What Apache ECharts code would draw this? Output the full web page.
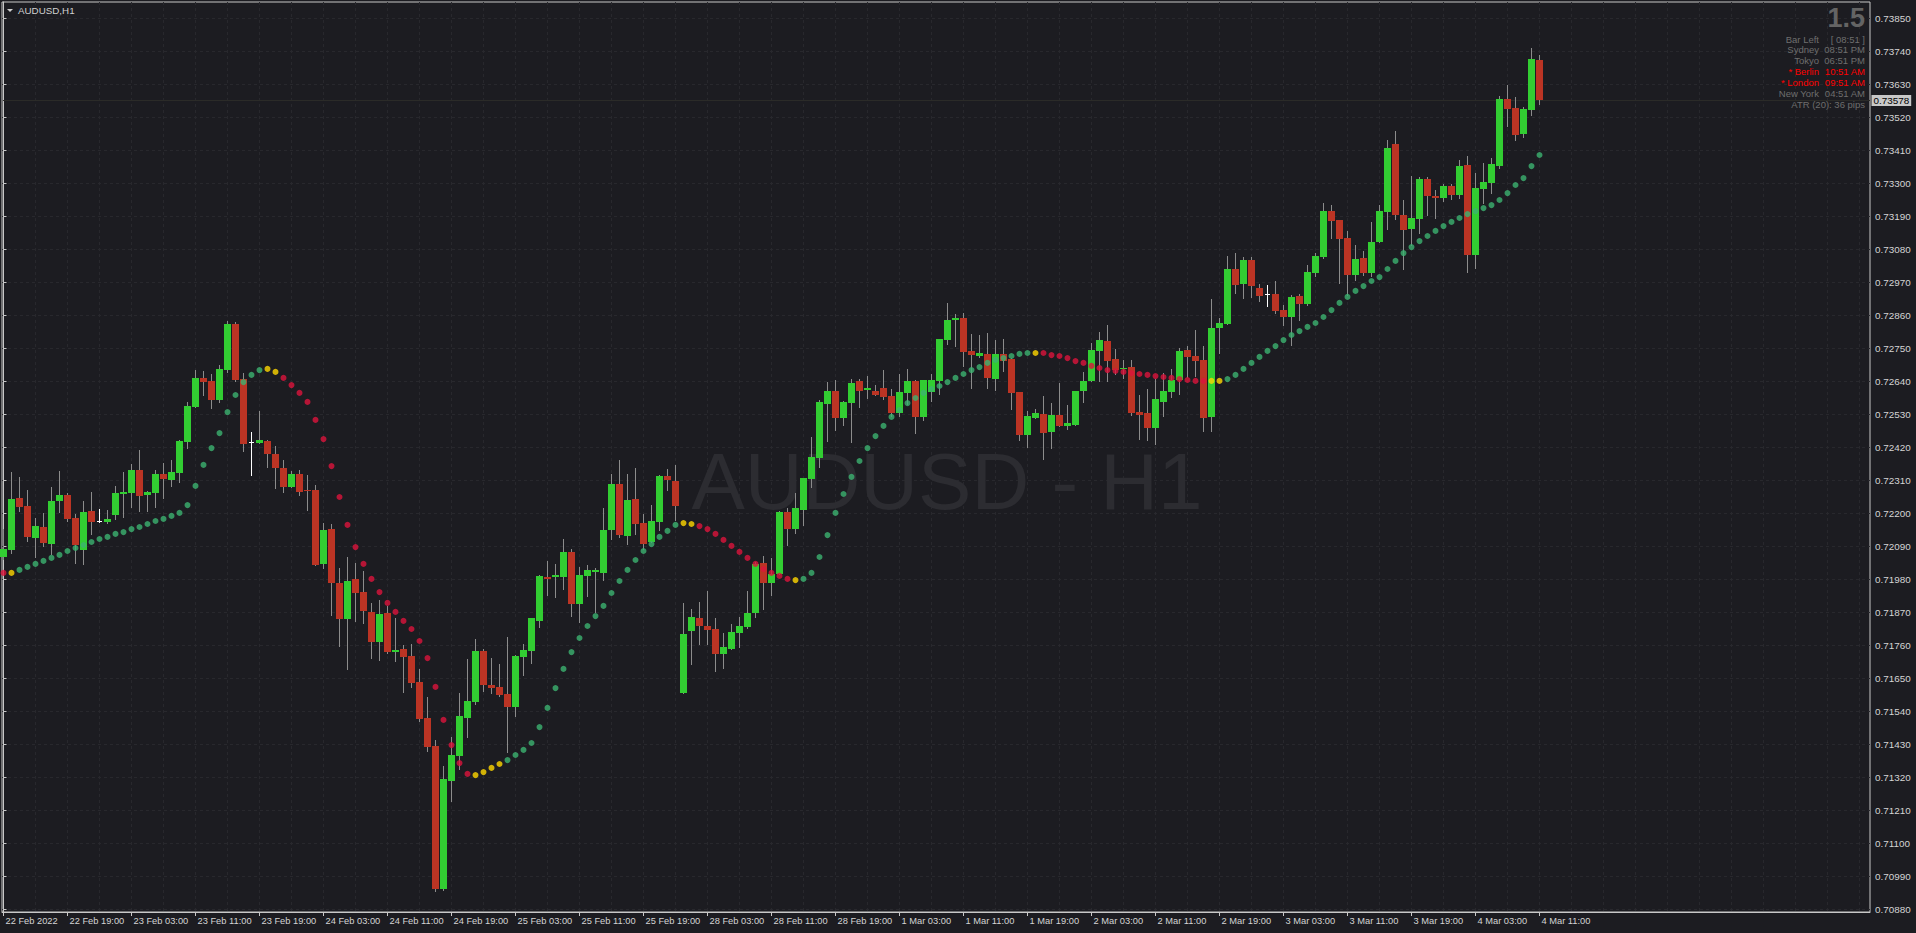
<!DOCTYPE html>
<html>
<head>
<meta charset="utf-8">
<script src="https://cdn.jsdelivr.net/npm/echarts@6/dist/echarts.min.js"></script>
<style>
html,body{margin:0;padding:0;background:#1c1c21;}
#main{width:1916px;height:933px;}
</style>
</head>
<body>
<div id="main"></div>
<script>
// ---------- DATA ----------
const timeLabels = ['22 Feb 2022','22 Feb 19:00','23 Feb 03:00','23 Feb 11:00','23 Feb 19:00','24 Feb 03:00','24 Feb 11:00','24 Feb 19:00','25 Feb 03:00','25 Feb 11:00','25 Feb 19:00','28 Feb 03:00','28 Feb 11:00','28 Feb 19:00','1 Mar 03:00','1 Mar 11:00','1 Mar 19:00','2 Mar 03:00','2 Mar 11:00','2 Mar 19:00','3 Mar 03:00','3 Mar 11:00','3 Mar 19:00','4 Mar 03:00','4 Mar 11:00'];
const labelBars = [0,8,16,24,32,40,48,56,64,72,80,88,96,104,112,120,128,136,144,152,160,168,176,184,192];
const priceTicks = [0.70880,0.70990,0.71100,0.71210,0.71320,0.71430,0.71540,0.71650,0.71760,0.71870,0.71980,0.72090,0.72200,0.72310,0.72420,0.72530,0.72640,0.72750,0.72860,0.72970,0.73080,0.73190,0.73300,0.73410,0.73520,0.73630,0.73740,0.73850];

const opens = [
0.72056,0.72078,0.72252,0.72225,0.72118,0.72155,0.72098,0.72242,0.72262,0.72185,
0.72078,0.72208,0.72174,0.72172,0.72195,0.72265,0.72268,0.72345,0.72262,0.72268,
0.72332,0.72312,0.72335,0.72438,0.72555,0.72652,0.72642,0.72578,0.72678,0.72832,
0.72648,0.72437,0.72435,0.72442,0.72398,0.72352,0.72288,0.72332,0.72278,0.72278,
0.72032,0.72148,0.71968,0.71848,0.71982,0.71938,0.71872,0.71772,0.71868,0.71738,
0.71748,0.71725,0.71638,0.71518,0.71425,0.70948,0.71308,0.71392,0.71518,0.71572,
0.71742,0.71628,0.71622,0.71598,0.71555,0.71722,0.71742,0.71842,0.71988,0.71988,
0.71988,0.72072,0.71898,0.71992,0.72005,0.72002,0.72145,0.72298,0.72125,0.72248,
0.72168,0.72105,0.72172,0.72325,0.72308,0.71602,0.71808,0.71852,0.71825,0.71815,
0.71732,0.71748,0.71802,0.71822,0.71868,0.72035,0.71968,0.71998,0.72205,0.72148,
0.72212,0.72315,0.72385,0.72565,0.72608,0.72518,0.72568,0.72642,0.72612,0.72608,
0.72618,0.72592,0.72535,0.72602,0.72642,0.72522,0.72605,0.72642,0.72778,0.72845,
0.72852,0.72742,0.72725,0.72732,0.72648,0.72732,0.72715,0.72605,0.72462,0.72518,
0.72532,0.72472,0.72528,0.72492,0.72495,0.72608,0.72642,0.72742,0.72775,0.72715,
0.72682,0.72688,0.72538,0.72535,0.72485,0.72572,0.72605,0.72645,0.72745,0.72725,
0.72712,0.72522,0.72818,0.72832,0.73015,0.72965,0.73045,0.72952,0.72932,0.72932,
0.72878,0.72855,0.72925,0.72898,0.73002,0.73055,0.73208,0.73178,0.73118,0.72995,
0.73052,0.73002,0.73105,0.73205,0.73432,0.73195,0.73148,0.73182,0.73315,0.73258,
0.73252,0.73292,0.73262,0.73362,0.73062,0.73282,0.73302,0.73358,0.73582,0.73552,
0.73465,0.73545,0.73712];

const highs = [
0.72150,0.72338,0.72323,0.72278,0.72184,0.72203,0.72288,0.72342,0.72269,0.72198,
0.72242,0.72272,0.72215,0.72212,0.72292,0.72338,0.72365,0.72412,0.72275,0.72345,
0.72368,0.72378,0.72445,0.72572,0.72678,0.72675,0.72665,0.72695,0.72842,0.72840,
0.72668,0.72472,0.72542,0.72445,0.72425,0.72378,0.72342,0.72345,0.72328,0.72295,
0.72168,0.72165,0.72018,0.72055,0.72035,0.72008,0.71902,0.71912,0.71892,0.71852,
0.71762,0.71765,0.71682,0.71588,0.71445,0.71358,0.71455,0.71602,0.71715,0.71782,
0.71748,0.71718,0.71698,0.71788,0.71728,0.71765,0.71852,0.71995,0.72042,0.72032,
0.72115,0.72082,0.72022,0.72028,0.72018,0.72218,0.72332,0.72378,0.72332,0.72352,
0.72198,0.72228,0.72328,0.72348,0.72362,0.71902,0.71882,0.71905,0.71942,0.71852,
0.71802,0.71832,0.71855,0.71942,0.72038,0.72058,0.72052,0.72208,0.72218,0.72268,
0.72318,0.72455,0.72578,0.72638,0.72645,0.72575,0.72648,0.72648,0.72658,0.72628,
0.72678,0.72615,0.72665,0.72682,0.72645,0.72645,0.72665,0.72782,0.72902,0.72865,
0.72868,0.72798,0.72795,0.72802,0.72778,0.72782,0.72718,0.72605,0.72542,0.72548,
0.72592,0.72568,0.72635,0.72562,0.72608,0.72672,0.72768,0.72805,0.72828,0.72748,
0.72712,0.72712,0.72595,0.72615,0.72648,0.72668,0.72682,0.72752,0.72758,0.72812,
0.72758,0.72915,0.72852,0.73058,0.73068,0.73055,0.73055,0.72965,0.72962,0.72975,
0.72895,0.72928,0.72932,0.73028,0.73068,0.73235,0.73228,0.73178,0.73142,0.73095,
0.73075,0.73172,0.73228,0.73445,0.73475,0.73245,0.73325,0.73322,0.73322,0.73278,
0.73298,0.73298,0.73378,0.73392,0.73335,0.73368,0.73385,0.73592,0.73628,0.73588,
0.73555,0.73752,0.73728];

const lows = [
0.72050,0.72070,0.72208,0.72109,0.72056,0.72092,0.72065,0.72205,0.72175,0.72036,
0.72032,0.72132,0.72171,0.72167,0.72182,0.72188,0.72222,0.72208,0.72208,0.72222,
0.72252,0.72292,0.72305,0.72419,0.72555,0.72595,0.72552,0.72572,0.72672,0.72642,
0.72409,0.72328,0.72435,0.72355,0.72285,0.72272,0.72288,0.72262,0.72212,0.72028,
0.72018,0.71862,0.71758,0.71682,0.71842,0.71835,0.71718,0.71712,0.71735,0.71708,
0.71605,0.71622,0.71508,0.71408,0.70942,0.70945,0.71242,0.71348,0.71455,0.71565,
0.71608,0.71602,0.71592,0.71405,0.71525,0.71662,0.71702,0.71822,0.71928,0.71922,
0.71948,0.71858,0.71838,0.71925,0.71872,0.71978,0.72115,0.72122,0.72098,0.72132,
0.72082,0.72105,0.72145,0.72278,0.72180,0.71602,0.71698,0.71765,0.71765,0.71675,
0.71685,0.71748,0.71755,0.71818,0.71855,0.71882,0.71928,0.71998,0.72095,0.72135,
0.72162,0.72288,0.72355,0.72442,0.72478,0.72495,0.72438,0.72555,0.72585,0.72595,
0.72582,0.72525,0.72525,0.72565,0.72468,0.72512,0.72575,0.72598,0.72765,0.72758,
0.72692,0.72618,0.72722,0.72618,0.72612,0.72675,0.72548,0.72445,0.72422,0.72518,
0.72382,0.72418,0.72492,0.72482,0.72495,0.72572,0.72642,0.72642,0.72642,0.72665,
0.72652,0.72528,0.72448,0.72445,0.72432,0.72525,0.72588,0.72598,0.72655,0.72658,
0.72475,0.72475,0.72735,0.72832,0.72935,0.72918,0.72922,0.72908,0.72892,0.72868,
0.72828,0.72762,0.72845,0.72895,0.72992,0.73052,0.73118,0.72968,0.72928,0.72978,
0.72995,0.72992,0.73105,0.73148,0.73182,0.73015,0.73095,0.73135,0.73195,0.73185,
0.73242,0.73248,0.73252,0.73005,0.73018,0.73235,0.73268,0.73352,0.73492,0.73445,
0.73455,0.73528,0.73565];

const closes = [
0.72082,0.72248,0.72223,0.72123,0.72158,0.72102,0.72242,0.72262,0.72182,0.72094,
0.72205,0.72172,0.72174,0.72182,0.72268,0.72272,0.72345,0.72258,0.72272,0.72332,
0.72315,0.72338,0.72442,0.72558,0.72652,0.72638,0.72578,0.72682,0.72832,0.72645,
0.72432,0.72437,0.72445,0.72398,0.72352,0.72288,0.72332,0.72272,0.72275,0.72028,
0.72145,0.71968,0.71848,0.71975,0.71935,0.71875,0.71772,0.71865,0.71738,0.71745,
0.71722,0.71635,0.71515,0.71422,0.70948,0.71315,0.71395,0.71525,0.71575,0.71742,
0.71628,0.71618,0.71595,0.71555,0.71725,0.71745,0.71852,0.71992,0.71982,0.71995,
0.72072,0.71898,0.71995,0.72012,0.72012,0.72145,0.72298,0.72128,0.72245,0.72165,
0.72098,0.72175,0.72325,0.72312,0.72225,0.71798,0.71855,0.71825,0.71812,0.71732,
0.71755,0.71805,0.71825,0.71868,0.72032,0.71968,0.71998,0.72205,0.72148,0.72218,
0.72318,0.72388,0.72572,0.72608,0.72518,0.72572,0.72635,0.72608,0.72618,0.72595,
0.72588,0.72535,0.72605,0.72642,0.72522,0.72645,0.72645,0.72782,0.72845,0.72852,
0.72738,0.72728,0.72735,0.72652,0.72732,0.72708,0.72602,0.72462,0.72525,0.72535,
0.72468,0.72528,0.72492,0.72502,0.72608,0.72642,0.72745,0.72778,0.72708,0.72678,
0.72685,0.72535,0.72528,0.72485,0.72582,0.72608,0.72645,0.72742,0.72722,0.72708,
0.72518,0.72818,0.72835,0.73015,0.72962,0.73045,0.72958,0.72925,0.72932,0.72875,
0.72855,0.72922,0.72898,0.73005,0.73058,0.73208,0.73175,0.73115,0.72995,0.73048,
0.73002,0.73105,0.73208,0.73418,0.73195,0.73145,0.73185,0.73315,0.73258,0.73252,
0.73292,0.73262,0.73358,0.73062,0.73285,0.73305,0.73365,0.73582,0.73548,0.73462,
0.73548,0.73715,0.73578];

const dotValues = [
0.72002,0.72002,0.72012,0.72022,0.72032,0.72042,0.72052,0.72062,0.72075,0.72085,
0.72095,0.72105,0.72115,0.72122,0.72132,0.72138,0.72148,0.72155,0.72165,0.72175,
0.72182,0.72192,0.72202,0.72228,0.72292,0.72362,0.72418,0.72468,0.72538,0.72595,
0.72638,0.72662,0.72678,0.72682,0.72672,0.72652,0.72628,0.72602,0.72572,0.72512,
0.72448,0.72358,0.72255,0.72162,0.72088,0.72032,0.71982,0.71938,0.71902,0.71872,
0.71842,0.71815,0.71775,0.71718,0.71622,0.71512,0.71428,0.71368,0.71332,0.71328,
0.71338,0.71352,0.71365,0.71378,0.71395,0.71412,0.71435,0.71488,0.71552,0.71618,
0.71682,0.71738,0.71785,0.71825,0.71858,0.71892,0.71935,0.71975,0.72012,0.72045,
0.72075,0.72098,0.72122,0.72142,0.72162,0.72168,0.72165,0.72158,0.72148,0.72132,
0.72112,0.72092,0.72072,0.72052,0.72032,0.72015,0.72002,0.71992,0.71982,0.71978,
0.71982,0.72002,0.72055,0.72128,0.72202,0.72265,0.72322,0.72375,0.72418,0.72458,
0.72492,0.72522,0.72545,0.72568,0.72585,0.72602,0.72615,0.72625,0.72638,0.72652,
0.72665,0.72678,0.72688,0.72702,0.72712,0.72718,0.72725,0.72732,0.72735,0.72735,
0.72735,0.72728,0.72725,0.72718,0.72708,0.72702,0.72692,0.72685,0.72678,0.72675,
0.72672,0.72668,0.72665,0.72662,0.72658,0.72655,0.72652,0.72648,0.72645,0.72642,
0.72642,0.72642,0.72642,0.72648,0.72662,0.72682,0.72702,0.72722,0.72742,0.72758,
0.72778,0.72795,0.72808,0.72822,0.72835,0.72855,0.72878,0.72902,0.72922,0.72942,
0.72958,0.72975,0.72988,0.73015,0.73042,0.73068,0.73088,0.73108,0.73125,0.73142,
0.73158,0.73172,0.73185,0.73198,0.73208,0.73218,0.73228,0.73245,0.73268,0.73295,
0.73318,0.73358,0.73395];

// dot colour state, as runs of (state, count): g = up, r = down, y = turning
const dotStateRuns = [['r',1],['y',1],['g',31],['y',2],['r',24],['y',4],['g',22],['y',2],['r',12],['y',1],['g',29],['y',1],['r',21],['y',2],['g',40]];

const infoNames  = ['Bar Left','Sydney','Tokyo','* Berlin','* London','New York'];
const infoValues = ['[ 08:51 ]','08:51 PM','06:51 PM','10:51 AM','09:51 AM','04:51 AM'];
const infoAlert  = [false,false,false,true,true,false];
const atrText = 'ATR (20): 36 pips';
const spreadText = '1.5';
const symbolTitle = 'AUDUSD,H1';
const watermark = 'AUDUSD - H1';

// ---------- STYLE ----------
const BG = '#1c1c21';
const FG = '#c8c8c8';
const GRID = '#28282d';
const BULL = '#32cd32';
const BEAR = '#bb3424';
const WICK = '#8c8c8c';
const DOJI = '#ffffff';
const DOT = {g:'#3cb371', r:'#dc143c', y:'#ffd700'};
const FONT = '"Liberation Sans", Arial, sans-serif';

const dotStates = [];
dotStateRuns.forEach(([s, n]) => { for (let k = 0; k < n; k++) dotStates.push(s); });

const gridBars = [];
for (let b = 0; b <= 232; b += 4) gridBars.push(b);

const X_MIN = -0.1875, X_MAX = 233.3125;
const Y_MIN = 0.7087167, Y_MAX = 0.73905;

const candleData = opens.map((o, i) => [i, o, highs[i], lows[i], closes[i]]);
const dotData = dotValues.map((v, i) => ({value: [i, v], itemStyle: {color: DOT[dotStates[i]]}}));
const lastClose = closes[closes.length - 1];

function renderCandle(params, api) {
  const i = api.value(0), o = api.value(1), h = api.value(2), l = api.value(3), c = api.value(4);
  const pO = api.coord([i, o]), pC = api.coord([i, c]);
  const pH = api.coord([i, Math.max(h, o, c)]), pL = api.coord([i, Math.min(l, o, c)]);
  const cx = Math.floor(pO[0] + 1e-6);
  const yH = Math.round(pH[1]), yL = Math.round(pL[1]);
  const yO = Math.round(pO[1]), yC = Math.round(pC[1]);
  const top = Math.min(yO, yC), bot = Math.max(yO, yC);
  const doji = o === c;
  const children = [{
    type: 'rect', shape: {x: cx, y: yH, width: 1, height: Math.max(1, yL - yH + 1)},
    style: {fill: doji ? DOJI : WICK}
  }];
  if (doji) {
    children.push({type: 'rect', shape: {x: cx - 2, y: yO, width: 5, height: 1}, style: {fill: DOJI}});
  } else {
    children.push({type: 'rect', shape: {x: cx - 3, y: top, width: 7, height: Math.max(1, bot - top)},
      style: {fill: c > o ? BULL : BEAR}});
  }
  return {type: 'group', children};
}

const chart = echarts.init(document.getElementById('main'), null, {renderer: 'svg', width: 1916, height: 933});

chart.setOption({
  backgroundColor: BG,
  animation: false,
  grid: {left: 2, top: 2, right: 46, bottom: 21, show: true, borderColor: FG, borderWidth: 1, backgroundColor: 'transparent'},
  xAxis: [{
    type: 'value', min: X_MIN, max: X_MAX, position: 'bottom',
    axisLine: {show: true, lineStyle: {color: FG}},
    axisTick: {show: true, customValues: labelBars, length: 4, lineStyle: {color: FG}},
    axisLabel: {customValues: labelBars, formatter: v => timeLabels[labelBars.indexOf(Math.round(v))],
      align: 'left', color: '#d4d4d4', fontSize: 9.3, fontFamily: FONT, margin: 4, padding: [0, 0, 0, 2]},
    splitLine: {show: false}
  }, {
    type: 'value', min: X_MIN, max: X_MAX, position: 'top',
    axisLine: {show: false}, axisLabel: {show: false},
    axisTick: {show: false, customValues: gridBars},
    splitLine: {show: true, lineStyle: {color: GRID, type: [3, 3], width: 1}}
  }],
  yAxis: {
    type: 'value', position: 'right', min: Y_MIN, max: Y_MAX,
    axisLine: {show: true, lineStyle: {color: FG}},
    axisTick: {show: true, customValues: priceTicks, length: 3, lineStyle: {color: FG}},
    axisLabel: {customValues: priceTicks, formatter: v => v.toFixed(5), color: '#d4d4d4',
      fontSize: 9.9, fontFamily: FONT, margin: 5},
    splitLine: {show: true, lineStyle: {color: GRID, type: [3, 3], width: 1}}
  },
  series: [{
    type: 'custom', name: 'AUDUSD', xAxisIndex: 0, yAxisIndex: 0,
    data: candleData, encode: {x: 0, y: [1, 2, 3, 4]},
    renderItem: renderCandle, z: 3, silent: true
  }, {
    type: 'scatter', name: 'trend', xAxisIndex: 0, yAxisIndex: 0,
    data: dotData, symbol: 'circle', symbolSize: 6, z: 4, silent: true
  }]
});

// bid line and price tag positioned through the y-axis scale
const bidY = Math.round(chart.convertToPixel({yAxisIndex: 0}, lastClose)) + 0.5;
const gridLeftPx = chart.convertToPixel({xAxisIndex: 0}, X_MIN);
const gridRightPx = chart.convertToPixel({xAxisIndex: 0}, X_MAX);

const graphics = [
  {type: 'text', x: 947, y: 481, z: 1, silent: true,
   style: {text: watermark, textAlign: 'center', textVerticalAlign: 'middle', fill: '#2c2c31', font: '80px ' + FONT}},
  {type: 'line', z: 1, silent: true,
   shape: {x1: gridLeftPx + 1, y1: bidY, x2: gridRightPx, y2: bidY},
   style: {stroke: '#2b2b28', lineWidth: 1}},
  {type: 'text', x: gridRightPx + 1.5, y: bidY, z: 10, silent: true,
   style: {text: lastClose.toFixed(5), textAlign: 'left', textVerticalAlign: 'middle',
     fill: '#000000', backgroundColor: '#c8c8c8', padding: [1, 2, 0, 2], font: '9.9px ' + FONT}},
  {type: 'polygon', shape: {points: [[7, 9], [13, 9], [10, 12]]}, style: {fill: '#d0d0d0'}, z: 10},
  {type: 'text', x: 18, y: 10.5, z: 10,
   style: {text: symbolTitle, textAlign: 'left', textVerticalAlign: 'middle', fill: '#d0d0d0', font: '9.8px ' + FONT}},
  {type: 'text', x: 1865, y: 18, z: 10,
   style: {text: spreadText, textAlign: 'right', textVerticalAlign: 'middle', fill: '#646464', font: 'bold 27px ' + FONT}}
];
infoNames.forEach((n, k) => {
  const y = 39 + k * 10.8;
  const col = infoAlert[k] ? '#ff0000' : '#6e6e6e';
  graphics.push({type: 'text', x: 1819, y: y, z: 10,
    style: {text: n, textAlign: 'right', textVerticalAlign: 'middle', fill: col, font: '9.5px ' + FONT}});
  graphics.push({type: 'text', x: 1865, y: y, z: 10,
    style: {text: infoValues[k], textAlign: 'right', textVerticalAlign: 'middle', fill: col, font: '9.5px ' + FONT}});
});
graphics.push({type: 'text', x: 1865, y: 104.5, z: 10,
  style: {text: atrText, textAlign: 'right', textVerticalAlign: 'middle', fill: '#6e6e6e', font: '9.5px ' + FONT}});

chart.setOption({graphic: graphics});
</script>
</body>
</html>
